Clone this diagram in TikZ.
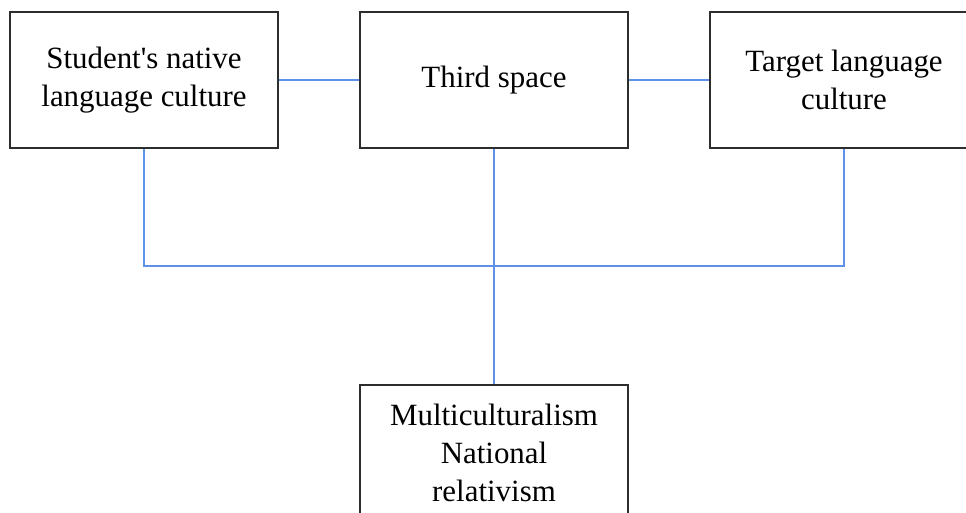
\documentclass[tikz,border=0pt]{standalone}
\usepackage{fontspec}
\setmainfont{Liberation Serif}
\usepackage{xcolor}
\definecolor{linkblue}{RGB}{95,145,235}
\definecolor{boxgray}{RGB}{45,45,45}

\begin{document}
\begin{tikzpicture}[x=0.02cm,y=-0.02cm,
    box/.style={draw=boxgray,line width=0.8pt,minimum width=5.36cm,minimum height=2.72cm,align=center,inner sep=0pt,font=\fontsize{17.6}{21.4}\selectfont},
    link/.style={draw=linkblue,line width=0.8pt}]
      \useasboundingbox (0,0) rectangle (966,513);
      \clip (0,0) rectangle (966,513);
      \node [box] (L) at (144,80) {Student\textquotesingle s native\\language culture};
      \node [box] (M) at (494,80) {Third space};
      \node [box] (R) at (844,80) {Target language\\culture};
      \node [box] (B) at (494,453) {Multiculturalism\\National\\relativism};
      \coordinate (J) at (494,266);
      \draw [link] (L) -- (M);
      \draw [link] (M) -- (R);
      \draw [link] (L.south) |- (J) -| (R.south);
      \draw [link] (M.south) -- (B.north);
    \end{tikzpicture}
\end{document}
